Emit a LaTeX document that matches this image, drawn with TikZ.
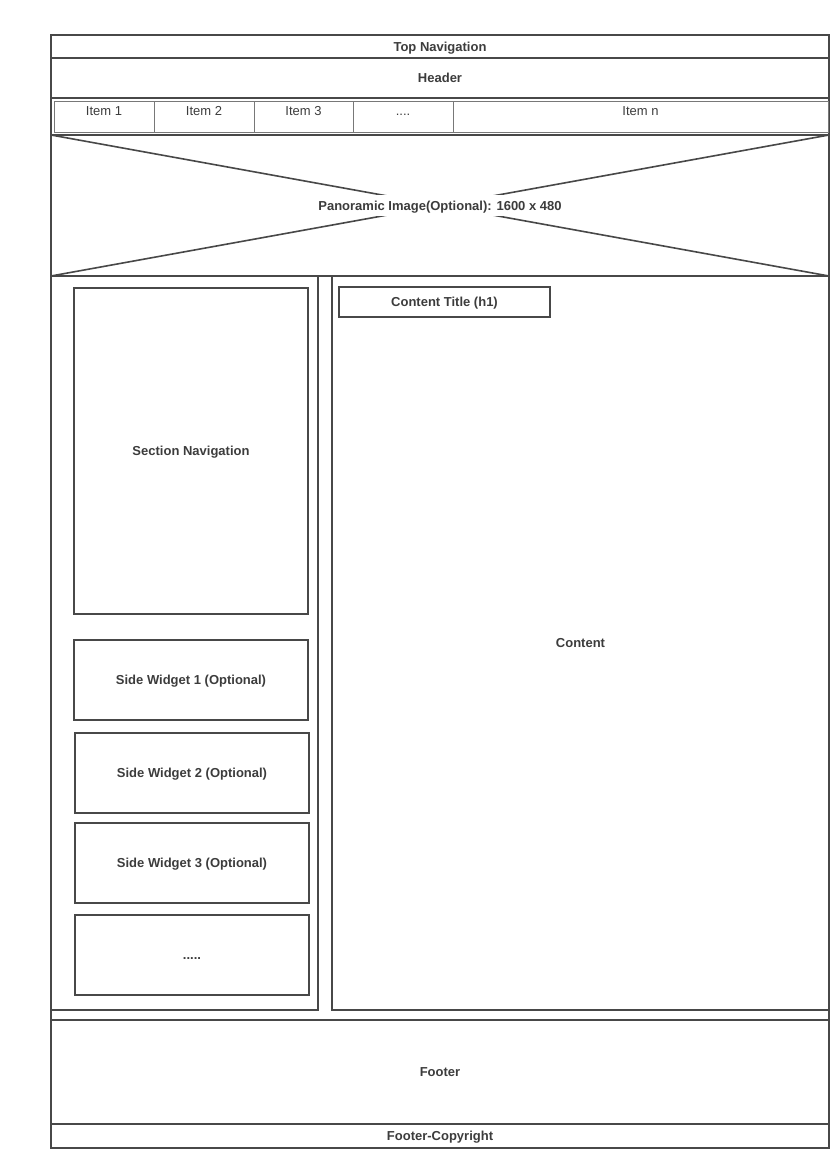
\documentclass[tikz,border=0pt]{standalone}
\usepackage{fontspec}
\setmainfont{Liberation Sans}
\usepackage{tikz}
\usetikzlibrary{positioning}
\usepackage{xcolor}
\definecolor{framegray}{RGB}{72,72,72}
\definecolor{itemgray}{RGB}{120,120,120}
\definecolor{textgray}{RGB}{60,60,60}

\begin{document}
\begin{tikzpicture}[
    x=1pt, y=-1pt,
    panel/.style={rectangle, draw=framegray, line width=1.6pt, inner sep=0pt, outer sep=0pt, text height=9.4pt, text depth=0pt, font=\fontsize{13}{15}\selectfont\bfseries, text=textgray},
    item/.style={rectangle, draw=itemgray, line width=0.8pt, minimum height=31pt, inner sep=0pt, outer sep=0pt, text height=9.4pt, text depth=11.3pt, font=\fontsize{13}{15}\selectfont, text=textgray},
    xline/.style={draw=framegray, line width=1.6pt},
    caption/.style={fill=white, inner xsep=4pt, inner ysep=6pt, text height=9.4pt, text depth=0pt, font=\fontsize{13}{15}\selectfont\bfseries, text=textgray}
]
\useasboundingbox (0,0) rectangle (838,1156);

% page frame
\node[panel, minimum width=778pt, minimum height=1113pt] (page) at (440,591.5) {};

% top bars
\node[panel, minimum width=778pt, minimum height=23pt] (topnav) at (440,46.5) {Top Navigation};
\node[panel, minimum width=778pt, minimum height=40pt, below=0pt of topnav] (header) {Header};
\node[panel, minimum width=778pt, minimum height=37pt, below=0pt of header] (menu) {};

% menu items
\node[item, minimum width=100pt] (item1) at (104,116.5) {Item 1};
\node[item, minimum width=100pt, right=0pt of item1] (item2) {Item 2};
\node[item, minimum width=99pt, right=0pt of item2] (item3) {Item 3};
\node[item, minimum width=100pt, right=0pt of item3] (itemdots) {....};
\node[item, minimum width=375pt, right=0pt of itemdots] (itemn) {Item n};

% panoramic image
\node[panel, minimum width=778pt, minimum height=141pt, below=0pt of menu] (pano) {};
\draw[xline] (pano.north west) -- (pano.south east);
\draw[xline] (pano.south west) -- (pano.north east);
\node[caption] (panolabel) at (pano.center) {Panoramic Image(Optional): 1600 x 480};

% sidebar
\node[panel, minimum width=267pt, minimum height=734pt] (sidebar) at (184.5,643) {};
\node[panel, minimum width=234pt, minimum height=326pt] (secnav) at (191,451) {Section Navigation};
\node[panel, minimum width=234pt, minimum height=80pt] (widget1) at (191,680) {Side Widget 1 (Optional)};
\node[panel, minimum width=234pt, minimum height=80pt] (widget2) at (192,773) {Side Widget 2 (Optional)};
\node[panel, minimum width=234pt, minimum height=80pt] (widget3) at (192,863) {Side Widget 3 (Optional)};
\node[panel, minimum width=234pt, minimum height=80pt] (widgetdots) at (192,955) {.....};

% content
\node[panel, minimum width=497pt, minimum height=734pt] (content) at (580.5,643) {Content};
\node[panel, minimum width=211pt, minimum height=30pt] (title) at (444.5,302) {Content Title (h1)};

% footer
\node[panel, minimum width=778pt, minimum height=104pt] (footer) at (440,1072) {Footer};
\node[panel, minimum width=778pt, minimum height=24pt, below=0pt of footer] (copyright) {Footer-Copyright};
\end{tikzpicture}
\end{document}
